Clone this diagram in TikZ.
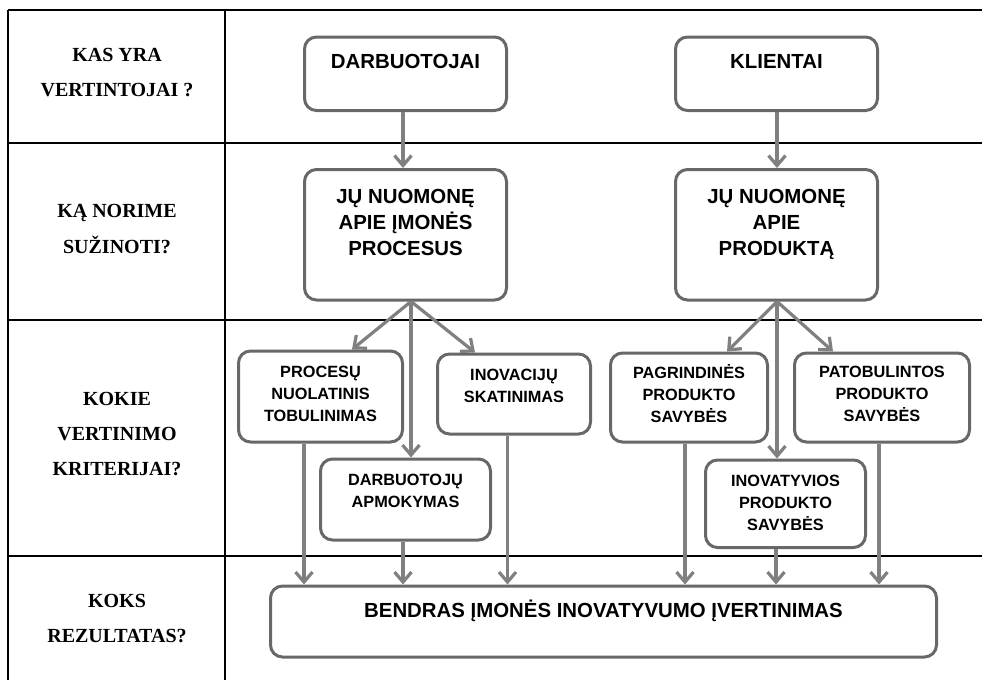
\documentclass[tikz,border=0pt]{standalone}
\usepackage{fontspec}
\setmainfont{Liberation Serif}
\newfontfamily\arialf{Liberation Sans}
\usetikzlibrary{arrows.meta,calc}
\definecolor{boxgray}{HTML}{686868}
\definecolor{arrgray}{HTML}{808080}
\begin{document}
\begin{tikzpicture}[x=1pt,y=-1pt,
  box/.style={draw=boxgray, line width=3pt, rounded corners=12pt, fill=white, inner sep=0pt, anchor=north},
  arr/.style={draw=arrgray, line width=3.2pt, -{Straight Barb[length=10pt,width=17pt]}},
  grid/.style={draw=black, line width=1.3pt},
  lbl/.style={font=\bfseries\fontsize{20}{24}\selectfont, anchor=base, inner sep=0pt},
  big/.style={font=\arialf\bfseries\fontsize{20.4}{24}\selectfont, anchor=base, inner sep=0pt},
  small/.style={font=\arialf\bfseries\fontsize{16.3}{20}\selectfont, anchor=base, inner sep=0pt}]
\useasboundingbox (0,0) rectangle (982,680);
\fill[white] (0,0) rectangle (982,680);
% table
\draw[grid] (8,10) -- (982,10);
\draw[grid] (8,143) -- (982,143);
\draw[grid] (8,320) -- (982,320);
\draw[grid] (8,556) -- (982,556);
\draw[grid] (8,10) -- (8,680);
\draw[grid] (225,10) -- (225,680);
% left labels
\node[lbl] (l1a) at (117,61) {KAS YRA};
\node[lbl] (l1b) at (117,96.5) {VERTINTOJAI ?};
\node[lbl] (l2a) at (117,217) {KĄ NORIME};
\node[lbl] (l2b) at (117,253) {SUŽINOTI?};
\node[lbl] (l3a) at (117,405) {KOKIE};
\node[lbl] (l3b) at (117,440) {VERTINIMO};
\node[lbl] (l3c) at (117,475) {KRITERIJAI?};
\node[lbl] (l4a) at (117,607) {KOKS};
\node[lbl] (l4b) at (117,642) {REZULTATAS?};
% boxes
\node[box, minimum width=202pt, minimum height=73.5pt] (bD) at (405.5,35.5) {};
\node[box, minimum width=202pt, minimum height=73.5pt] (bK) at (776.5,35.5) {};
\node[box, minimum width=202pt, minimum height=130.5pt] (pD) at (405.5,168) {};
\node[box, minimum width=202pt, minimum height=130.5pt] (pK) at (776.5,168) {};
\node[box, minimum width=164pt, minimum height=91pt] (s1) at (320.5,349.5) {};
\node[box, minimum width=153pt, minimum height=80pt] (s2) at (514,352.5) {};
\node[box, minimum width=170pt, minimum height=81pt] (s3) at (405.5,457.5) {};
\node[box, minimum width=157pt, minimum height=89pt] (s4) at (689,351.5) {};
\node[box, minimum width=175pt, minimum height=89pt] (s5) at (882,351.5) {};
\node[box, minimum width=160pt, minimum height=87.5pt] (s6) at (785.5,458.5) {};
\node[box, minimum width=666pt, minimum height=71pt] (res) at (603.5,584.5) {};
% box texts
\node[big] (tD) at (405.5,68) {DARBUOTOJAI};
\node[big] (tK) at (776.5,68) {KLIENTAI};
\node[big] (tpD1) at (405.5,203) {JŲ NUOMONĘ};
\node[big] (tpD2) at (405.5,229) {APIE ĮMONĖS};
\node[big] (tpD3) at (405.5,255) {PROCESUS};
\node[big] (tpK1) at (776.5,203) {JŲ NUOMONĘ};
\node[big] (tpK2) at (776.5,229) {APIE};
\node[big] (tpK3) at (776.5,255) {PRODUKTĄ};
\node[small] (t11) at (320.5,377) {PROCESŲ};
\node[small] (t12) at (320.5,399) {NUOLATINIS};
\node[small] (t13) at (320.5,421) {TOBULINIMAS};
\node[small] (t21) at (514,380) {INOVACIJŲ};
\node[small] (t22) at (514,402) {SKATINIMAS};
\node[small] (t31) at (405.5,485) {DARBUOTOJŲ};
\node[small] (t32) at (405.5,507) {APMOKYMAS};
\node[small] (t41) at (689,378) {PAGRINDINĖS};
\node[small] (t42) at (689,400) {PRODUKTO};
\node[small] (t43) at (689,422) {SAVYBĖS};
\node[small] (t51) at (882,377) {PATOBULINTOS};
\node[small] (t52) at (882,399) {PRODUKTO};
\node[small] (t53) at (882,421) {SAVYBĖS};
\node[small] (t61) at (785.5,486) {INOVATYVIOS};
\node[small] (t62) at (785.5,508) {PRODUKTO};
\node[small] (t63) at (785.5,530) {SAVYBĖS};
\node[big] (tres) at (603.5,617) {BENDRAS ĮMONĖS INOVATYVUMO ĮVERTINIMAS};
% connectors
\draw[arr] ([xshift=-2.5pt]bD.south) -- ([xshift=-2.5pt]pD.north);
\draw[arr] ([xshift=0.5pt]bK.south) -- ([xshift=0.5pt]pK.north);
\coordinate (apL) at ([xshift=5.5pt]pD.south);
\coordinate (apR) at ([xshift=0.5pt]pK.south);
\draw[arr] (apL) -- ([xshift=31.5pt]s1.north);
\draw[arr] (apL) -- ([xshift=-39pt]s2.north);
\draw[arr] (apL) -- ([xshift=5.5pt]s3.north);
\draw[arr] (apR) -- ([xshift=38pt]s4.north);
\draw[arr] (apR) -- ([xshift=-49pt]s5.north);
\draw[arr] (apR) -- ([xshift=-8.5pt]s6.north);
\draw[arr] ([xshift=-16.5pt]s1.south) -- ([xshift=-16.5pt]s1.south |- res.north);
\draw[arr] ([xshift=-2.5pt]s3.south) -- ([xshift=-2.5pt]s3.south |- res.north);
\draw[arr] ([xshift=-6.5pt]s2.south) -- ([xshift=-6.5pt]s2.south |- res.north);
\draw[arr] ([xshift=-4pt]s4.south) -- ([xshift=-4pt]s4.south |- res.north);
\draw[arr] ([xshift=-9.5pt]s6.south) -- ([xshift=-9.5pt]s6.south |- res.north);
\draw[arr] ([xshift=-3pt]s5.south) -- ([xshift=-3pt]s5.south |- res.north);
\end{tikzpicture}
\end{document}
